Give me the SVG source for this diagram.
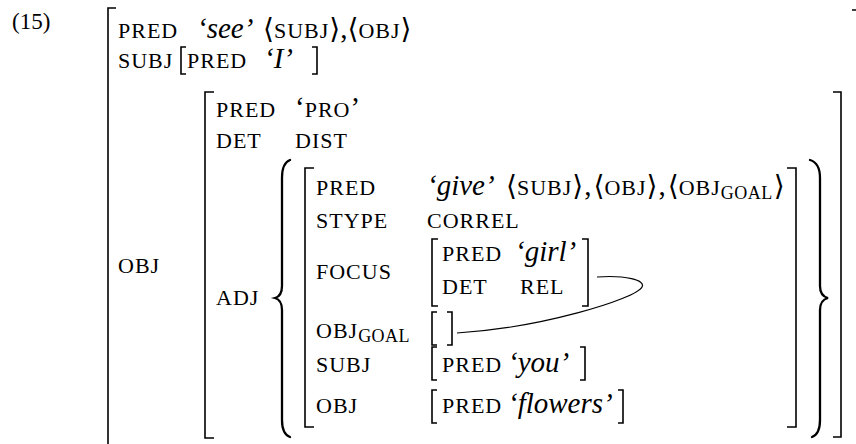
<svg xmlns="http://www.w3.org/2000/svg" width="856" height="444" viewBox="0 0 856 444">
  <style>
    text { font-family: "Liberation Serif", "Times New Roman", serif; font-size: 29px; fill: #000; }
    .num { font-size: 23px; }
    .sc { font-size: 22px; letter-spacing: 1px; }
    .it { font-style: italic; }
    .sub { font-size: 18px; letter-spacing: 0.5px; }
    .ang { font-family: "DejaVu Sans", sans-serif; font-size: 28px; }
    .br { fill: none; stroke: #000; stroke-width: 1.6; }
    .brace { fill: none; stroke: #000; stroke-width: 2.3; stroke-linecap: round; }
    .link { fill: none; stroke: #000; stroke-width: 1.2; }
  </style>

  <!-- example number -->
  <g id="ex-number">
    <text class="num" x="12" y="29">(15)</text>
  </g>

  <!-- outermost f-structure -->
  <g id="fs-outer">
    <path class="br" d="M116,8 H108 V444"/>
    <path class="br" d="M852,10 H857 V444"/>
    <text class="sc" x="118" y="38">PRED</text>
    <text class="it" x="197" y="38">‘see’</text>
    <text x="263" y="38"><tspan class="ang">⟨</tspan><tspan class="sc">SUBJ</tspan><tspan class="ang">⟩</tspan>,<tspan class="ang">⟨</tspan><tspan class="sc">OBJ</tspan><tspan class="ang">⟩</tspan></text>
    <text class="sc" x="118" y="68">SUBJ</text>
    <text class="sc" x="118" y="273">OBJ</text>
  </g>

  <!-- SUBJ value -->
  <g id="fs-subj">
    <path class="br" d="M186,47 H181 V74 H186"/>
    <path class="br" d="M312,47 H317 V74 H312"/>
    <text class="sc" x="187" y="68">PRED</text>
    <text class="it" x="264" y="68">‘I’</text>
  </g>

  <!-- OBJ value -->
  <g id="fs-obj">
    <path class="br" d="M214,92 H205 V438 H214"/>
    <path class="br" d="M833,92 H841 V437 H833"/>
    <text class="sc" x="216" y="117">PRED</text>
    <text x="295" y="117">‘<tspan class="sc">PRO</tspan>’</text>
    <text class="sc" x="216" y="148">DET</text>
    <text class="sc" x="295" y="148">DIST</text>
    <text class="sc" x="216" y="305">ADJ</text>
    <!-- set braces -->
    <path class="brace" d="M290,160 Q282,163 282,178 V286 Q282,296 275,298 Q282,300 282,310 V420 Q282,434 290,437"/>
    <path class="brace" d="M810,160 Q820,163 820,178 V286 Q820,296 828,298 Q820,300 820,310 V420 Q820,434 812,437"/>
  </g>

  <!-- adjunct member -->
  <g id="fs-adj">
    <path class="br" d="M314,168 H305 V427 H314"/>
    <path class="br" d="M787,168 H796 V427 H787"/>
    <text class="sc" x="316" y="195">PRED</text>
    <text class="it" x="427" y="195">‘give’</text>
    <text x="506" y="195"><tspan class="ang">⟨</tspan><tspan class="sc">SUBJ</tspan><tspan class="ang">⟩</tspan><tspan dx="1">,</tspan><tspan class="ang" dx="2">⟨</tspan><tspan class="sc">OBJ</tspan><tspan class="ang">⟩</tspan><tspan dx="1">,</tspan><tspan class="ang" dx="2">⟨</tspan><tspan class="sc">OBJ</tspan><tspan class="sub" dy="4">GOAL</tspan><tspan class="ang" dy="-4" dx="1">⟩</tspan></text>
    <text class="sc" x="316" y="228">STYPE</text>
    <text class="sc" x="427" y="228">CORREL</text>
    <text class="sc" x="316" y="279">FOCUS</text>
    <text class="sc" x="316" y="338">OBJ<tspan class="sub" dy="4">GOAL</tspan></text>
    <text class="sc" x="316" y="372">SUBJ</text>
    <text class="sc" x="316" y="413">OBJ</text>
  </g>

  <!-- FOCUS value -->
  <g id="fs-focus">
    <path class="br" d="M438,239 H432 V306 H438"/>
    <path class="br" d="M582,239 H588 V306 H582"/>
    <text class="sc" x="442" y="261">PRED</text>
    <text class="it" x="515" y="261">‘girl’</text>
    <text class="sc" x="442" y="294">DET</text>
    <text class="sc" x="520" y="294">REL</text>
  </g>

  <!-- OBJ_GOAL value (empty) -->
  <g id="fs-objgoal">
    <path class="br" d="M437,312 H432 V345 H437"/>
    <path class="br" d="M447,312 H452 V345 H447"/>
  </g>

  <!-- adjunct SUBJ value -->
  <g id="fs-adj-subj">
    <path class="br" d="M437,347 H432 V380 H437"/>
    <path class="br" d="M580,347 H585 V380 H580"/>
    <text class="sc" x="442" y="372">PRED</text>
    <text class="it" x="508" y="372">‘you’</text>
  </g>

  <!-- adjunct OBJ value -->
  <g id="fs-adj-obj">
    <path class="br" d="M437,390 H432 V423 H437"/>
    <path class="br" d="M618,390 H623 V423 H618"/>
    <text class="sc" x="442" y="413">PRED</text>
    <text class="it" x="508" y="413">‘flowers’</text>
  </g>

  <!-- structure-sharing link -->
  <g id="connectors">
    <path class="link" d="M597,277 C625,275 646,280 642,287 C636,299 540,328 457,333"/>
  </g>
</svg>
